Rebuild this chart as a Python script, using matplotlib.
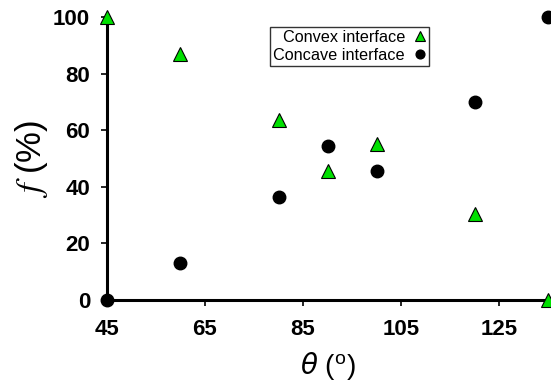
import numpy as np
import matplotlib.pyplot as plt

# angles (deg) and fractions (%)
theta = [45, 60, 80, 90, 100, 120, 135]
f_convex = [100, 87, 63.5, 45.5, 55, 30.5, 0]
f_concave = [0, 13, 36.5, 54.5, 45.5, 69.8, 100]

plt.rcParams['font.family'] = ['Liberation Sans', 'DejaVu Sans']
plt.rcParams['mathtext.fontset'] = 'custom'
plt.rcParams['mathtext.it'] = 'STIXGeneral:italic'
plt.rcParams['mathtext.sf'] = 'DejaVu Sans:italic'
plt.rcParams['mathtext.rm'] = 'Liberation Sans'

fig = plt.figure(figsize=(5.51, 3.85), dpi=100)
ax = fig.add_axes([0.194, 0.221, 0.801, 0.735])

ax.plot(theta, f_convex, ls='none', marker='^', ms=9.5, mfc='#00e000', mec='black',
        mew=0.8, clip_on=False, zorder=3, label='Convex interface')
ax.plot(theta, f_concave, ls='none', marker='o', ms=9, mfc='black', mec='black',
        clip_on=False, zorder=3, label='Concave interface')

ax.set_xlim(45, 135)
ax.set_ylim(0, 100)
ax.set_xticks([45, 65, 85, 105, 125])
ax.set_yticks([0, 20, 40, 60, 80, 100])

for s in ['top', 'right']:
    ax.spines[s].set_visible(False)
for s in ['left', 'bottom']:
    ax.spines[s].set_linewidth(2.2)

ax.tick_params(direction='out', length=4, width=1.2, labelsize=16)
ax.tick_params(axis='x', pad=10)
ax.tick_params(axis='y', pad=8)
for lab in ax.get_xticklabels() + ax.get_yticklabels():
    lab.set_fontweight('bold')

ax.set_xlabel(r'$\mathsf{\theta}$ ($^{\rm o}$)', fontsize=20, labelpad=7)
ax.set_ylabel(r'$f$ (%)', fontsize=25, labelpad=2)

leg = ax.legend(loc='upper left', bbox_to_anchor=(0.37, 0.965), markerfirst=False,
                fontsize=11.7, frameon=True, fancybox=False, edgecolor='black',
                handletextpad=0.5, borderpad=0.2, labelspacing=0.15,
                handlelength=0.8, markerscale=0.7, borderaxespad=0)
leg.get_frame().set_linewidth(1.0)

plt.savefig('out.png', dpi=100)
